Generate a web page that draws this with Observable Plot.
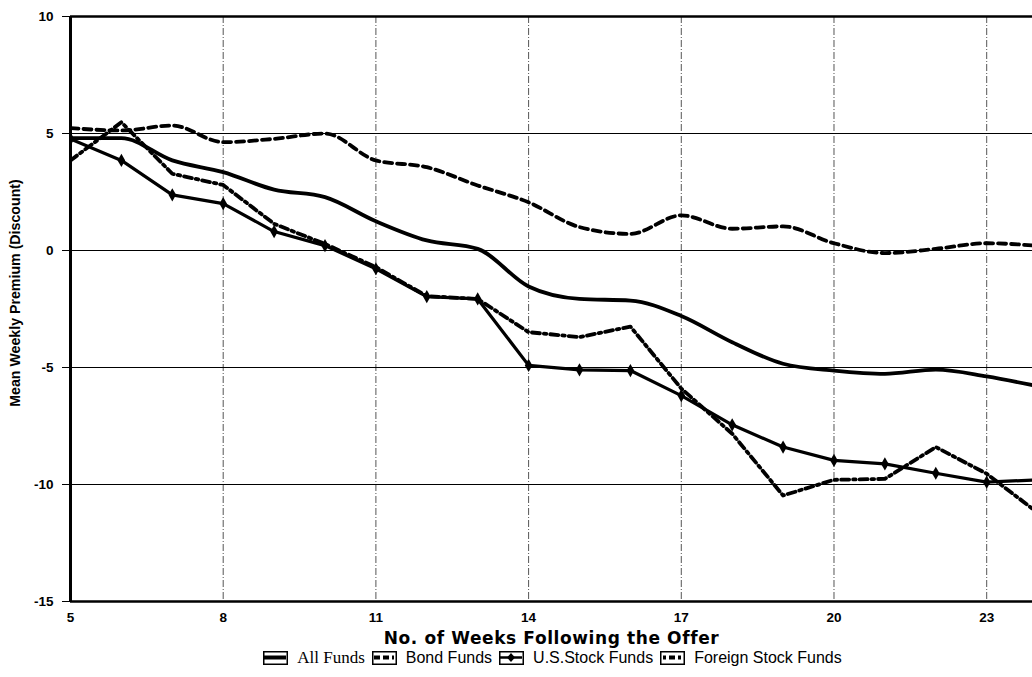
<!DOCTYPE html>
<html>
<head>
<meta charset="utf-8">
<script src="https://cdn.jsdelivr.net/npm/d3@7"></script>
<script src="https://cdn.jsdelivr.net/npm/@observablehq/plot@0.6"></script>
<style>
  html, body { margin: 0; padding: 0; background: #fff; }
  #wrap { position: relative; width: 1032px; height: 677px; overflow: hidden; }
  #legend { position: absolute; top: 648px; left: 0; width: 1032px; display: flex; justify-content: center; align-items: center; font-family: "Liberation Sans", Arial, sans-serif; font-size: 16px; color: #000; padding-left: 80px; box-sizing: border-box; }
  #legend .item { display: flex; align-items: center; margin-right: 7px; }
  #legend svg { margin-right: 9px; }
  #legend .serif { font-family: "Liberation Serif", "Times New Roman", serif; font-size: 17px; }
</style>
</head>
<body>
<div id="wrap"><div id="chart"></div><div id="legend"></div></div>
<script>
const weeks = [5, 6, 7, 8, 9, 10, 11, 12, 13, 14, 15, 16, 17, 18, 19, 20, 21, 22, 23, 24];
const allFunds = [4.8, 4.8, 3.85, 3.35, 2.6, 2.28, 1.25, 0.43, 0.07, -1.54, -2.07, -2.14, -2.8, -3.92, -4.84, -5.13, -5.27, -5.09, -5.38, -5.8];
const bondFunds = [5.23, 5.13, 5.34, 4.63, 4.77, 5.0, 3.85, 3.56, 2.78, 2.06, 1.0, 0.71, 1.5, 0.93, 1.03, 0.31, -0.11, 0.07, 0.31, 0.2];
const usStockFunds = [4.77, 3.85, 2.38, 2.0, 0.81, 0.21, -0.78, -1.97, -2.07, -4.91, -5.1, -5.13, -6.2, -7.45, -8.4, -8.97, -9.12, -9.52, -9.9, -9.8];
const foreignStockFunds = [3.85, 5.48, 3.28, 2.8, 1.14, 0.28, -0.71, -1.95, -2.07, -3.49, -3.7, -3.25, -5.9, -7.83, -10.47, -9.8, -9.76, -8.4, -9.54, -11.2];
const xTicks = [5, 8, 11, 14, 17, 20, 23];
const yTicks = [10, 5, 0, -5, -10, -15];
const yGrid = [5, 0, -5, -10];
const seriesNames = ["All Funds", "Bond Funds", "U.S.Stock Funds", "Foreign Stock Funds"];
const xTitle = "No. of Weeks Following the Offer";
const yTitle = "Mean Weekly Premium (Discount)";

const toRows = (vals) => weeks.map((w, i) => ({week: w, value: vals[i]}));
const allRows = toRows(allFunds);
const bondRows = toRows(bondFunds);
const usRows = toRows(usStockFunds);
const forRows = toRows(foreignStockFunds);

const tickFont = {fontWeight: "bold", fontSize: 13.5, fontFamily: "Liberation Sans, Arial, sans-serif", fill: "#000"};

const chart = Plot.plot({
  width: 1032,
  height: 648,
  marginTop: 16,
  marginBottom: 47,
  marginLeft: 70,
  marginRight: 0,
  style: {fontFamily: "Liberation Sans, Arial, sans-serif", fontWeight: "bold", fontSize: "13.5px", color: "#000", background: "#fff"},
  x: {type: "linear", domain: [5, 23.9], axis: null},
  y: {type: "linear", domain: [-15, 10]},
  marks: [
    Plot.ruleX(xTicks.slice(1), {stroke: "#555", strokeWidth: 1, strokeDasharray: "7,2,1,2"}),
    Plot.ruleY(yGrid, {stroke: "#000", strokeWidth: 1}),
    Plot.ruleY([10], {stroke: "#000", strokeWidth: 2.5}),
    Plot.ruleY([-15], {stroke: "#000", strokeWidth: 2.5}),
    Plot.ruleX([5], {stroke: "#000", strokeWidth: 3}),
    Plot.axisY({ticks: yTicks, tickSize: 8, tickPadding: 9, tickFormat: () => "", label: null}),
    Plot.text(yTicks, {x: 5, y: d => d, text: d => String(d), textAnchor: "end", dx: -17, ...tickFont}),
    Plot.text(xTicks, {x: d => d, y: -15, text: d => String(d), lineAnchor: "middle", dy: 16, ...tickFont}),
    Plot.lineY(allRows, {x: "week", y: "value", stroke: "#000", strokeWidth: 3.8, curve: "monotone-x", clip: true}),
    Plot.lineY(bondRows, {x: "week", y: "value", stroke: "#000", strokeWidth: 3.8, strokeDasharray: "8,5", curve: "monotone-x", clip: true}),
    Plot.lineY(forRows, {x: "week", y: "value", stroke: "#000", strokeWidth: 3.8, strokeDasharray: "8,4,2.5,4", clip: true}),
    Plot.lineY(usRows, {x: "week", y: "value", stroke: "#000", strokeWidth: 3.2, clip: true}),
    Plot.dot(usRows, {x: "week", y: "value", symbol: "diamond", r: 4, fill: "#000", stroke: "none", clip: true}),
    Plot.text([yTitle], {frameAnchor: "left", textAnchor: "middle", lineAnchor: "middle", rotate: -90, dx: -55, dy: -16, fontWeight: "bold", fontSize: 14.2, fill: "#000"}),
    Plot.text([xTitle], {frameAnchor: "bottom", textAnchor: "middle", lineAnchor: "middle", dy: 37, fontWeight: "bold", fontSize: 17, fontFamily: "DejaVu Sans, Liberation Sans, sans-serif", fill: "#000"})
  ]
});
document.getElementById("chart").appendChild(chart);
chart.querySelectorAll("text").forEach(t => { if (t.textContent === xTitle) t.style.letterSpacing = "0.6px"; });

// legend
const icons = [
  '<line x1="1" y1="6.5" x2="23" y2="6.5" stroke="#000" stroke-width="4"/>',
  '<line x1="2" y1="6.5" x2="22" y2="6.5" stroke="#000" stroke-width="4" stroke-dasharray="6,3"/>',
  '<line x1="1" y1="6.5" x2="23" y2="6.5" stroke="#000" stroke-width="2.5"/><path d="M12 2 L16 6.5 L12 11 L8 6.5 Z" fill="#000"/>',
  '<line x1="3" y1="6.5" x2="22" y2="6.5" stroke="#000" stroke-width="4" stroke-dasharray="3,3,6,3"/>'
];
const legend = document.getElementById("legend");
seriesNames.forEach((name, i) => {
  const item = document.createElement("div");
  item.className = "item";
  const cls = i === 0 ? "serif" : "";
  item.innerHTML = `<svg width="25" height="14" viewBox="0 0 25 14"><rect x="0.75" y="0.75" width="23.5" height="12.5" fill="#fff" stroke="#000" stroke-width="1.5"/>${icons[i]}</svg><span class="${cls}">${name}</span>`;
  legend.appendChild(item);
});
</script>
</body>
</html>
